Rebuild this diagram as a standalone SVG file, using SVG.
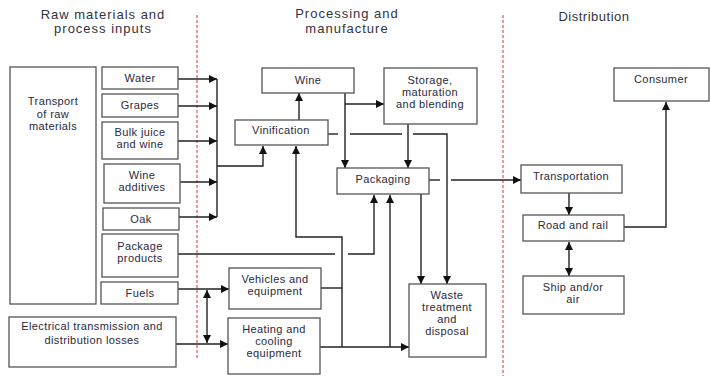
<svg xmlns="http://www.w3.org/2000/svg" width="710" height="376" viewBox="0 0 710 376">
<defs>
<marker id="ah" viewBox="0 0 10 10" refX="10" refY="5" markerWidth="9" markerHeight="8" markerUnits="userSpaceOnUse" orient="auto-start-reverse">
<path d="M0,0 L10,5 L0,10 z" fill="#111"/>
</marker>
<style>
.box{fill:#fff;stroke:#555;stroke-width:1.3}
.t{font-family:"Liberation Sans",Arial,sans-serif;font-size:11px;fill:#2a2a3a;text-anchor:middle;letter-spacing:0.4px}
.h{font-family:"Liberation Sans",Arial,sans-serif;font-size:13px;fill:#333340;text-anchor:middle;letter-spacing:1px}
.ln{fill:none;stroke:#222;stroke-width:1.4}
.ar{fill:none;stroke:#222;stroke-width:1.4;marker-end:url(#ah)}
.dar{fill:none;stroke:#222;stroke-width:1.4;marker-end:url(#ah);marker-start:url(#ah)}
.red{stroke:#e06666;stroke-width:1.3;stroke-dasharray:3,2;fill:none}
</style>
</defs>
<rect width="710" height="376" fill="#fff"/>
<g id="headings">
<text class="h" x="103" y="19">Raw materials and</text>
<text class="h" x="103" y="33">process inputs</text>
<text class="h" x="347" y="18">Processing and</text>
<text class="h" x="347" y="33">manufacture</text>
<text class="h" x="594" y="21" style="letter-spacing:0.5px">Distribution</text>
</g>
<g id="dividers">
<line class="red" x1="197" y1="15" x2="197" y2="358"/>
<line class="red" x1="503" y1="15" x2="503" y2="376"/>
</g>
<g id="connectors">
<line class="ar" x1="178" y1="79" x2="217" y2="79"/>
<line class="ar" x1="178" y1="106" x2="217" y2="106"/>
<line class="ar" x1="178" y1="141" x2="217" y2="141"/>
<line class="ar" x1="180" y1="182" x2="217" y2="182"/>
<line class="ar" x1="179" y1="217" x2="217" y2="217"/>
<line class="ln" x1="217" y1="79" x2="217" y2="217"/>
<polyline class="ar" points="217,166 263,166 263,146"/>
<line class="ar" x1="299" y1="120" x2="299" y2="93"/>
<line class="ar" x1="345" y1="93" x2="345" y2="168"/>
<line class="ar" x1="345" y1="104" x2="384" y2="104"/>
<line class="ar" x1="408" y1="124" x2="408" y2="168"/>
<line class="ln" x1="328" y1="134" x2="338" y2="134"/>
<line class="ln" x1="350" y1="134" x2="402" y2="134"/>
<polyline class="ar" points="413,134 447,134 447,284"/>
<line class="ln" x1="429" y1="180" x2="440" y2="180"/>
<line class="ar" x1="451" y1="180" x2="521" y2="180"/>
<line class="ar" x1="421" y1="194" x2="421" y2="284"/>
<line class="ln" x1="178" y1="254" x2="335" y2="254"/>
<polyline class="ar" points="348,254 374,254 374,195"/>
<line class="ar" x1="178" y1="289" x2="229" y2="289"/>
<line class="ar" x1="176" y1="344" x2="228" y2="344"/>
<line class="dar" x1="207" y1="290" x2="207" y2="343"/>
<line class="ln" x1="321" y1="288" x2="342" y2="288"/>
<line class="ar" x1="320" y1="347" x2="409" y2="347"/>
<polyline class="ar" points="342,347 342,237 296,237 296,146"/>
<line class="ar" x1="390" y1="347" x2="390" y2="195"/>
<line class="ar" x1="569" y1="193" x2="569" y2="215"/>
<line class="dar" x1="569" y1="242" x2="569" y2="276"/>
<polyline class="ar" points="624,227 666,227 666,102"/>
</g>
<g id="transport">
<rect class="box" x="10" y="67" width="86" height="237"/>
<text class="t" x="53" y="105">Transport</text>
<text class="t" x="53" y="118">of raw</text>
<text class="t" x="53" y="130">materials</text>
</g>
<g id="water">
<rect class="box" x="102" y="67" width="76" height="22"/>
<text class="t" x="140" y="82">Water</text>
</g>
<g id="grapes">
<rect class="box" x="102" y="94" width="76" height="23"/>
<text class="t" x="140" y="109">Grapes</text>
</g>
<g id="bulk">
<rect class="box" x="102" y="122" width="76" height="37"/>
<text class="t" x="140" y="136">Bulk juice</text>
<text class="t" x="140" y="148">and wine</text>
</g>
<g id="additives">
<rect class="box" x="104" y="164" width="76" height="39"/>
<text class="t" x="142" y="179">Wine</text>
<text class="t" x="142" y="191">additives</text>
</g>
<g id="oak">
<rect class="box" x="103" y="208" width="76" height="22"/>
<text class="t" x="141" y="223">Oak</text>
</g>
<g id="package">
<rect class="box" x="102" y="234" width="76" height="43"/>
<text class="t" x="140" y="250">Package</text>
<text class="t" x="140" y="262">products</text>
</g>
<g id="fuels">
<rect class="box" x="101" y="282" width="77" height="22"/>
<text class="t" x="140" y="297">Fuels</text>
</g>
<g id="electrical">
<rect class="box" x="9" y="317" width="167" height="50"/>
<text class="t" x="92" y="330">Electrical transmission and</text>
<text class="t" x="92" y="344">distribution losses</text>
</g>
<g id="vinification">
<rect class="box" x="235" y="120" width="93" height="25"/>
<text class="t" x="281" y="134">Vinification</text>
</g>
<g id="wine">
<rect class="box" x="262" y="68" width="92" height="25"/>
<text class="t" x="308" y="84">Wine</text>
</g>
<g id="storage">
<rect class="box" x="384" y="68" width="93" height="56"/>
<text class="t" x="430" y="84">Storage,</text>
<text class="t" x="430" y="96">maturation</text>
<text class="t" x="430" y="108">and blending</text>
</g>
<g id="packaging">
<rect class="box" x="337" y="168" width="92" height="26"/>
<text class="t" x="383" y="183">Packaging</text>
</g>
<g id="vehicles">
<rect class="box" x="229" y="268" width="92" height="41"/>
<text class="t" x="275" y="283">Vehicles and</text>
<text class="t" x="275" y="295">equipment</text>
</g>
<g id="heating">
<rect class="box" x="228" y="318" width="92" height="56"/>
<text class="t" x="274" y="333">Heating and</text>
<text class="t" x="274" y="345">cooling</text>
<text class="t" x="274" y="357">equipment</text>
</g>
<g id="waste">
<rect class="box" x="409" y="284" width="77" height="73"/>
<text class="t" x="447" y="299">Waste</text>
<text class="t" x="447" y="311">treatment</text>
<text class="t" x="447" y="323">and</text>
<text class="t" x="447" y="335">disposal</text>
</g>
<g id="transportation">
<rect class="box" x="521" y="165" width="101" height="28"/>
<text class="t" x="571" y="180">Transportation</text>
</g>
<g id="road">
<rect class="box" x="523" y="215" width="101" height="26"/>
<text class="t" x="573" y="229">Road and rail</text>
</g>
<g id="ship">
<rect class="box" x="523" y="276" width="101" height="38"/>
<text class="t" x="573" y="291">Ship and/or</text>
<text class="t" x="573" y="303">air</text>
</g>
<g id="consumer">
<rect class="box" x="614" y="68" width="95" height="33"/>
<text class="t" x="661" y="83">Consumer</text>
</g>
</svg>
